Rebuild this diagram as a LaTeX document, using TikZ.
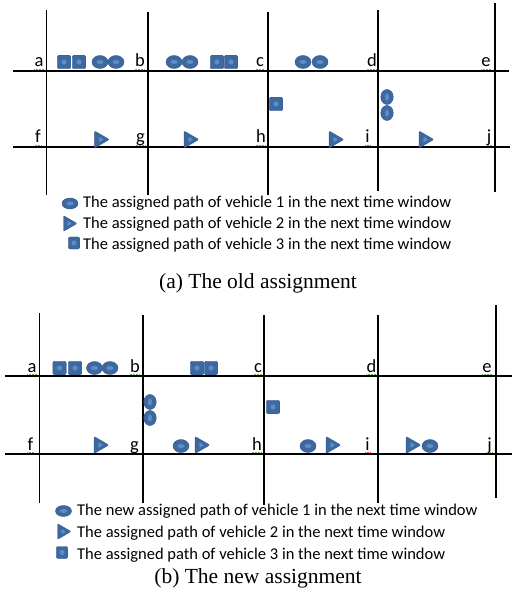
\documentclass[tikz,border=0pt]{standalone}
\usepackage{fontspec}
\setmainfont{Carlito}
\newfontfamily\capfont{Liberation Serif}
\usetikzlibrary{positioning,shapes.geometric}
\definecolor{veh}{RGB}{61,104,160}
\definecolor{vehin}{RGB}{96,140,196}
\definecolor{vehline}{RGB}{50,88,140}
\definecolor{spellgreen}{RGB}{110,180,80}
\definecolor{spellred}{RGB}{225,70,70}

\begin{document}
\begin{tikzpicture}[
x=1pt, y=-1pt,
node distance = 2pt and 4pt,
road/.style = {line width=1.3pt},
mainroad/.style = {line width=2.8pt},
cross/.style = {font=\fontsize{18.5}{20}\selectfont, inner sep=0pt, anchor=base},
spell/.style = {draw=spellgreen, line width=0.7pt, dash pattern=on 0.8pt off 0.7pt},
sqveh/.style = {draw=vehline, fill=veh, thin, rounded corners=2pt,
                inner sep=0pt, minimum width=13.5pt, minimum height=13.5pt,
                path picture={\fill[vehin] (path picture bounding box.center)
                   +(-2.4pt,-2.4pt) rectangle +(2.4pt,2.4pt);}},
elveh/.style = {ellipse, draw=vehline, fill=veh, thin, inner sep=0pt,
                minimum width=16pt, minimum height=13pt,
                path picture={\fill[vehin] (path picture bounding box.center)
                   ellipse (3.6pt and 2pt);}},
elvert/.style = {elveh, minimum width=12.5pt, minimum height=15pt,
                 path picture={\fill[vehin] (path picture bounding box.center)
                   ellipse (2pt and 3.6pt);}},
trveh/.style = {regular polygon, regular polygon sides=3, shape border rotate=-90,
                draw=vehline, fill=veh, thin, inner sep=0pt,
                rounded corners=1pt, minimum size=19.5pt,
                path picture={\fill[vehin] (path picture bounding box.center)
                   ++(-3pt,2.8pt) -- ++(0pt,-5.6pt) -- ++(4.8pt,2.8pt) -- cycle;}},
legtext/.style = {font=\fontsize{16.5}{18}\selectfont, inner sep=0pt, anchor=west},
capt/.style = {font=\capfont\fontsize{21.5}{24}\selectfont, inner sep=0pt}
                ]
\useasboundingbox[fill=white] (0,0) rectangle (513,601);

%% (a) the old assignment
\draw[road] (46.5,10) -- (46.5,195);
\draw[road] (148,12) -- (148,195);
\draw[mainroad] (268,12) -- (268,195);
\draw[road] (378,10) -- (378,191);
\draw[road] (495,3) -- (495,192);
\draw[road] (13,71) -- (509,71);
\draw[mainroad] (13,147) -- (510,147);

\node (oa) [cross] at (39,67) {a};
\node (ob) [cross] at (140,67) {b};
\node (oc) [cross] at (260,67) {c};
\node (od) [cross] at (372,67) {d};
\node (oe) [cross] at (486,67) {e};
\node (of) [cross] at (38,143) {f};
\node (og) [cross] at (140.5,143) {g};
\node (oh) [cross] at (261,143) {h};
\node (oi) [cross] at (367.5,143) {i};
\node (oj) [cross] at (489,143) {j};
\foreach \n in {oa,ob,oc,od,oe,of,og,oh,oj}
  \draw[spell] ([yshift=-2pt]\n.base west) -- ([yshift=-2pt]\n.base east);
\draw[spell, draw=spellred] ([yshift=-2pt]oi.base west) -- ([yshift=-2pt]oi.base east);

\node (osq1) [sqveh] at (64,62) {};
\node (osq2) [sqveh] at (79,62) {};
\node (oel1) [elveh] at (100,62) {};
\node (oel2) [elveh] at (116,62) {};
\node (oel3) [elveh] at (174,62) {};
\node (oel4) [elveh] at (190,62) {};
\node (osq3) [sqveh] at (217,62) {};
\node (osq4) [sqveh] at (231,62) {};
\node (oel5) [elveh] at (303,62) {};
\node (oel6) [elveh] at (320,62) {};
\node (osq5) [sqveh] at (276,104) {};
\node (oel7) [elvert] at (387,97) {};
\node (oel8) [elvert] at (387,113) {};
\node (otr1) [trveh] at (99.5,139.5) {};
\node (otr2) [trveh] at (189,139.5) {};
\node (otr3) [trveh] at (334,139.5) {};
\node (otr4) [trveh] at (424,139.5) {};

\node (oleg1) [elveh, minimum width=16pt, minimum height=11pt] at (70,203.5) {};
\node (oleg2) [trveh, minimum size=18pt] at (68,223.5) {};
\node (oleg3) [sqveh, minimum width=11.5pt, minimum height=12pt] at (74,243) {};
\node (otxt1) [legtext] at (83,203.5) {The assigned path of vehicle 1 in the next time window};
\node (otxt2) [legtext] at (83,224) {The assigned path of vehicle 2 in the next time window};
\node (otxt3) [legtext] at (83,245) {The assigned path of vehicle 3 in the next time window};
\node (ocap) [capt] at (258,283) {(a) The old assignment};

%% (b) the new assignment
\draw[road] (39.5,313) -- (39.5,503);
\draw[road] (143,315) -- (143,503);
\draw[mainroad] (264,315) -- (264,505);
\draw[road] (378,315) -- (378,503);
\draw[road] (496,305) -- (496,498);
\draw[road] (5,376) -- (512,376);
\draw[mainroad] (5,454) -- (512,454);

\node (na) [cross] at (32,372) {a};
\node (nb) [cross] at (135,372) {b};
\node (nc) [cross] at (258,372) {c};
\node (nd) [cross] at (371.5,372) {d};
\node (ne) [cross] at (487,372) {e};
\node (nf) [cross] at (30.5,450) {f};
\node (ng) [cross] at (134.5,450) {g};
\node (nh) [cross] at (257,450) {h};
\node (ni) [cross] at (367.5,450) {i};
\node (nj) [cross] at (489.5,450) {j};
\foreach \n in {na,nb,nc,nd,ne,nf,nh,nj}
  \draw[spell] ([yshift=-2pt]\n.base west) -- ([yshift=-2pt]\n.base east);
\draw[spell, draw=spellred] ([yshift=-2pt]ni.base west) -- ([yshift=-2pt]ni.base east);

\node (nsq1) [sqveh] at (59.5,368) {};
\node (nsq2) [sqveh] at (75,368) {};
\node (nel1) [elveh] at (94.5,368) {};
\node (nel2) [elveh] at (110,368) {};
\node (nsq3) [sqveh] at (197,368) {};
\node (nsq4) [sqveh] at (211,368) {};
\node (nel3) [elvert] at (150,402) {};
\node (nel4) [elvert] at (150,418) {};
\node (nsq5) [sqveh] at (273,407) {};
\node (ntr1) [trveh] at (99,445) {};
\node (nel5) [elveh] at (181,446) {};
\node (ntr2) [trveh] at (200,445) {};
\node (nel6) [elveh] at (308,446) {};
\node (ntr3) [trveh] at (331,445) {};
\node (ntr4) [trveh] at (411,445) {};
\node (nel7) [elveh] at (430,446) {};

\node (nleg1) [elveh, minimum width=16pt, minimum height=11pt] at (63.5,511) {};
\node (nleg2) [trveh, minimum size=18pt] at (62,531.5) {};
\node (nleg3) [sqveh, minimum width=11.5pt, minimum height=12pt] at (62,552.5) {};
\node (ntxt1) [legtext] at (77,511) {The new assigned path of vehicle 1 in the next time window};
\node (ntxt2) [legtext] at (77,533) {The assigned path of vehicle 2 in the next time window};
\node (ntxt3) [legtext] at (77,555) {The assigned path of vehicle 3 in the next time window};
\node (ncap) [capt] at (258,578) {(b) The new assignment};
%%
\end{tikzpicture}
\end{document}
